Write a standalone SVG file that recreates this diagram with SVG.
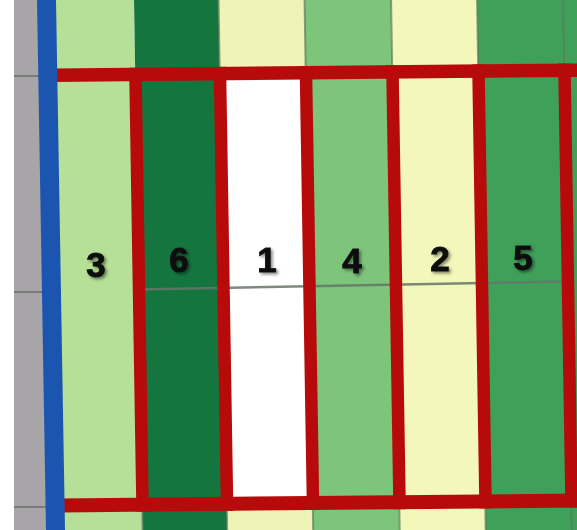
<svg xmlns="http://www.w3.org/2000/svg" width="577" height="530" viewBox="0 0 577 530">
<defs>
<style>
.c3{fill:#b6e097}.c6{fill:#14753e}.c1{fill:#ffffff}.cy{fill:#eff4b6}.c4{fill:#7cc57b}.c2{fill:#f4f7ba}.c5{fill:#3fa05a}
.red{fill:#b70b0b}
.pb{stroke:#5d7a5d;stroke-width:2;opacity:0.7}
.gl{stroke:#66766a;stroke-width:2.5;opacity:0.85}
.lbl{font-family:"Liberation Sans",Arial,sans-serif;font-weight:bold;font-size:35px;fill:#111;stroke:#111;stroke-width:0.9;text-anchor:middle}
</style>
<filter id="sh" x="-30%" y="-30%" width="160%" height="160%">
<feDropShadow dx="2" dy="2" stdDeviation="1.5" flood-color="#000" flood-opacity="0.45"/>
</filter>
</defs>
<rect x="0" y="0" width="577" height="530" fill="#ffffff"/>
<g id="gray-strip">
<rect x="14" y="0" width="40" height="530" fill="#a7a5a7"/>
<line x1="14" y1="76" x2="44" y2="76" stroke="#7a7a7a" stroke-width="2"/>
<line x1="14" y1="292" x2="48" y2="292" stroke="#7a7a7a" stroke-width="2"/>
<line x1="14" y1="507" x2="50" y2="507" stroke="#7a7a7a" stroke-width="2"/>
</g>
<g id="fields" transform="matrix(1,-0.0097,0.0163,1,0,0)">
<rect class="c3" x="40" y="-20" width="94" height="580"/>
<rect class="c6" x="134" y="-20" width="84.5" height="580"/>
<rect class="cy" x="218.5" y="-20" width="86" height="580"/>
<rect class="c1" x="218.5" y="75" width="86" height="430"/>
<rect class="c4" x="304.5" y="-20" width="86.5" height="580"/>
<rect class="c2" x="391" y="-20" width="86" height="580"/>
<rect class="c5" x="477" y="-20" width="130" height="580"/>
<g id="parcel-bounds">
<line class="pb" x1="218.5" y1="-20" x2="218.5" y2="70"/>
<line class="pb" x1="304.5" y1="-20" x2="304.5" y2="70"/>
<line class="pb" x1="391" y1="-20" x2="391" y2="70"/>
<line class="pb" x1="477" y1="-20" x2="477" y2="70"/>
<line class="pb" x1="563" y1="-20" x2="563" y2="70"/>
<line class="pb" x1="134" y1="512" x2="134" y2="560"/>
<line class="pb" x1="218.5" y1="512" x2="218.5" y2="560"/>
<line class="pb" x1="304.5" y1="512" x2="304.5" y2="560"/>
<line class="pb" x1="391" y1="512" x2="391" y2="560"/>
<line class="pb" x1="477" y1="512" x2="477" y2="560"/>
<line class="pb" x1="563" y1="512" x2="563" y2="560"/>
</g>
</g>
<g id="mid-lines">
<line class="gl" x1="138" y1="289.5" x2="562" y2="281.5"/>
</g>
<g id="frame" transform="matrix(1,-0.0097,0.0163,1,0,0)">
<rect class="red" x="52" y="69" width="560" height="13.5"/>
<rect class="red" x="52" y="499" width="560" height="14"/>
<rect class="red" x="128" y="69" width="12.5" height="444"/>
<rect class="red" x="212.5" y="69" width="12.5" height="444"/>
<rect class="red" x="298.5" y="69" width="12.5" height="444"/>
<rect class="red" x="385" y="69" width="12.5" height="444"/>
<rect class="red" x="471" y="69" width="12.5" height="444"/>
<rect class="red" x="557" y="69" width="12.5" height="444"/>
</g>
<g id="blue-line">
<polygon points="37,0 56,0 65,530 46,530" fill="#1c55b0"/>
</g>
<g id="labels" filter="url(#sh)">
<text class="lbl" x="96" y="277">3</text>
<text class="lbl" x="179" y="272">6</text>
<text class="lbl" x="267" y="272">1</text>
<text class="lbl" x="352" y="273">4</text>
<text class="lbl" x="440" y="271">2</text>
<text class="lbl" x="523" y="270">5</text>
</g>
</svg>
